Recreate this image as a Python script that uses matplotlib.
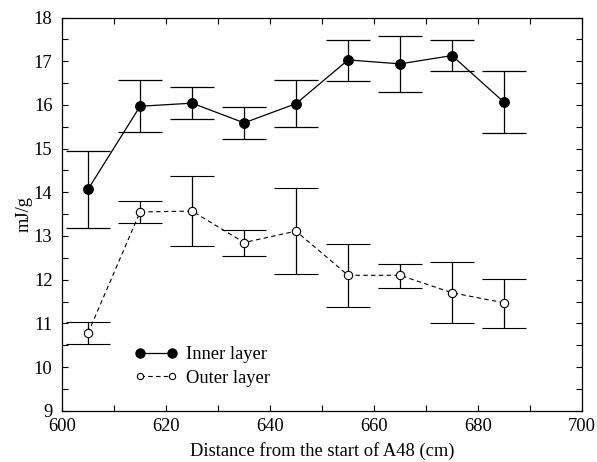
import matplotlib
matplotlib.use("Agg")
import matplotlib.pyplot as plt
from matplotlib.ticker import MultipleLocator
from matplotlib.lines import Line2D
import numpy as np

x = [605, 615, 625, 635, 645, 655, 665, 675, 685]
inner = [14.07, 15.97, 16.04, 15.59, 16.03, 17.03, 16.94, 17.13, 16.06]
inner_hi = [14.95, 16.57, 16.41, 15.96, 16.57, 17.49, 17.57, 17.49, 16.77]
inner_lo = [13.18, 15.39, 15.68, 15.22, 15.50, 16.55, 16.29, 16.78, 15.36]
outer = [10.78, 13.55, 13.57, 12.85, 13.11, 12.10, 12.10, 11.70, 11.47]
outer_hi = [11.02, 13.79, 14.37, 13.14, 14.10, 12.81, 12.37, 12.40, 12.02]
outer_lo = [10.53, 13.30, 12.78, 12.55, 12.12, 11.38, 11.80, 11.01, 10.89]
labels = ['Inner layer', 'Outer layer']

plt.rcParams['font.family'] = ['Liberation Serif', 'DejaVu Serif']

FS = 13.3

fig = plt.figure(figsize=(5.97, 4.62), dpi=100)
ax = fig.add_axes([0.104, 0.111, 0.871, 0.851])

inn = np.array(inner)
out = np.array(outer)
ierr = [inn - np.array(inner_lo), np.array(inner_hi) - inn]
oerr = [out - np.array(outer_lo), np.array(outer_hi) - out]

ax.errorbar(x, inner, yerr=ierr, fmt='o-', color='black', lw=0.9, ms=6.8,
            mfc='black', mec='black', ecolor='black', elinewidth=0.9,
            capsize=15.5, capthick=0.9)
ax.errorbar(x, outer, yerr=oerr, fmt='o--', color='black', lw=0.8, ms=6.0,
            mfc='white', mec='black', mew=0.8, ecolor='black', elinewidth=0.9,
            capsize=15.5, capthick=0.9, dashes=(4, 3))

ax.set_xlim(600, 700)
ax.set_ylim(9, 18)
ax.xaxis.set_major_locator(MultipleLocator(20))
ax.xaxis.set_minor_locator(MultipleLocator(10))
ax.yaxis.set_major_locator(MultipleLocator(1))
ax.yaxis.set_minor_locator(MultipleLocator(0.5))
ax.tick_params(which='both', direction='in', top=True, right=True,
               length=4, width=0.8, labelsize=FS)
ax.tick_params(axis='y', pad=7)
ax.tick_params(axis='x', pad=5)
for s in ax.spines.values():
    s.set_linewidth(0.9)

ax.set_xlabel('Distance from the start of A48 (cm)', fontsize=FS, labelpad=5)
ax.set_ylabel('mJ/g', fontsize=FS, labelpad=1)

h_in = Line2D([], [], color='black', lw=0.9, marker='o', ms=6.5,
              mfc='black', mec='black')
h_out = Line2D([], [], color='black', lw=0.8, ls='--', dashes=(4, 3),
               marker='o', ms=4.5, mfc='white', mec='black', mew=0.8)
ax.legend([h_in, h_out], labels, loc='center left',
          bbox_to_anchor=(0.140, 0.112), frameon=False, numpoints=2,
          handlelength=2.33, fontsize=FS, handletextpad=0.45,
          labelspacing=0.35, borderpad=0, borderaxespad=0)

fig.savefig('out.png', dpi=100)
